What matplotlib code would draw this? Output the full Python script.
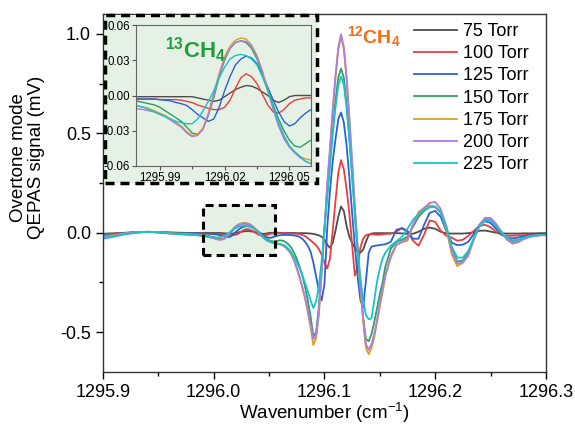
import numpy as np
import matplotlib
matplotlib.use("Agg")
import matplotlib.pyplot as plt
from matplotlib.patches import Rectangle
from matplotlib.ticker import MultipleLocator, FormatStrFormatter

plt.rcParams["font.family"] = "Liberation Sans"
plt.rcParams["mathtext.fontset"] = "custom"
plt.rcParams["mathtext.rm"] = "Liberation Sans"
plt.rcParams["mathtext.bf"] = "Liberation Sans:bold"
plt.rcParams["axes.unicode_minus"] = False

# sampling grid (cm-1): coarse baseline, fine over the 13CH4 / 12CH4 lines, medium tail
wavenumber = np.round(np.concatenate([
    np.arange(1295.90, 1295.975, 0.01),
    np.arange(1295.98, 1296.0601, 0.0025),
    np.arange(1296.0625, 1296.1551, 0.0025),
    np.arange(1296.16, 1296.3001, 0.005),
]), 4)

pressures = ["75 Torr", "100 Torr", "125 Torr", "150 Torr", "175 Torr", "200 Torr", "225 Torr"]
colors = ["#4d4d4d", "#ef3b3b", "#2a62d6", "#2ba25e", "#d9a21b", "#b07ae6", "#17c3c9"]

# QEPAS 2f signal (mV)
sig_75 = np.array([
    -0.005, -0.003, 0.000, 0.003, 0.004, 0.003, 0.001, 0.000,
    -0.001, -0.001, -0.001, -0.001, -0.001, -0.001, -0.001, -0.001, -0.001, -0.001, -0.001,
    -0.002, -0.003, -0.004, -0.005, -0.004, -0.001, 0.002, 0.005, 0.007, 0.0085, 0.008,
    0.006, 0.003, 0.000, -0.004, -0.006, -0.004, -0.001, 0.000, 0.000, 0.000, 0.000,
    -0.001, -0.001, -0.001, -0.001, -0.001, -0.002, -0.002, -0.002, -0.002, -0.003,
    -0.004, -0.006, -0.009, -0.013, -0.020, -0.032, -0.060, -0.076, -0.050, 0.010,
    0.080, 0.132, 0.110, 0.035, -0.020, -0.050, -0.075, -0.094, -0.100, -0.085,
    -0.045, -0.012, -0.004, -0.002, -0.002, -0.002, -0.002, -0.002,
    -0.002, -0.002, -0.003, -0.005, -0.005, 0.005, 0.020, 0.026, 0.020, 0.005,
    -0.003, -0.004, -0.004, -0.004, -0.002, 0.003, 0.010, 0.011, 0.006, 0.000,
    -0.003, -0.004, -0.004, -0.004, -0.003, -0.003, -0.003, -0.002, -0.002,
])
sig_100 = np.array([
    -0.006, -0.004, -0.001, 0.002, 0.004, 0.003, 0.001, -0.001,
    -0.003, -0.003, -0.003, -0.003, -0.0035, -0.0035, -0.0035, -0.0035, -0.004, -0.005, -0.006,
    -0.008, -0.0095, -0.011, -0.012, -0.012, -0.010, -0.004, 0.006, 0.015, 0.0185, 0.016,
    0.010, 0.001, -0.008, -0.014, -0.015, -0.012, -0.007, -0.004, -0.003, -0.002, -0.002,
    -0.002, -0.002, -0.003, -0.003, -0.004, -0.005, -0.007, -0.011, -0.017, -0.027,
    -0.038, -0.050, -0.063, -0.082, -0.110, -0.150, -0.180, -0.130, 0.010, 0.160,
    0.300, 0.365, 0.320, 0.220, 0.100, -0.060, -0.215, -0.170, -0.075, -0.030,
    -0.012, -0.008, -0.007, -0.008, -0.010, -0.010, -0.008, -0.006,
    -0.005, 0.005, 0.024, 0.010, -0.040, -0.065, -0.010, 0.062, 0.055, 0.010,
    -0.015, -0.025, -0.040, -0.035, -0.015, 0.010, 0.035, 0.040, 0.028, 0.005,
    -0.010, -0.015, -0.015, -0.013, -0.012, -0.010, -0.010, -0.010, -0.010,
])
sig_125 = np.array([
    -0.010, -0.006, -0.002, 0.002, 0.004, 0.003, 0.000, -0.002,
    -0.003, -0.003, -0.003, -0.003, -0.0035, -0.004, -0.0045, -0.006, -0.007, -0.0085, -0.012,
    -0.016, -0.019, -0.022, -0.020, -0.010, 0.004, 0.016, 0.026, 0.031, 0.0335, 0.032,
    0.027, 0.018, 0.007, -0.004, -0.014, -0.022, -0.026, -0.024, -0.019, -0.015, -0.012,
    -0.011, -0.011, -0.011, -0.012, -0.013, -0.016, -0.021, -0.030, -0.045, -0.065,
    -0.095, -0.150, -0.220, -0.290, -0.340, -0.260, 0.020, 0.210, 0.360, 0.470,
    0.570, 0.605, 0.555, 0.440, 0.280, 0.100, -0.070, -0.220, -0.340, -0.375,
    -0.240, -0.100, -0.070, -0.066, -0.064, -0.062, -0.060, -0.058,
    -0.045, 0.015, 0.022, 0.006, -0.030, -0.030, 0.040, 0.100, 0.110, 0.080,
    0.010, -0.050, -0.062, -0.060, -0.045, -0.005, 0.040, 0.058, 0.050, 0.020,
    -0.010, -0.025, -0.028, -0.024, -0.018, -0.014, -0.012, -0.011, -0.010,
])
sig_150 = np.array([
    -0.015, -0.009, -0.003, 0.002, 0.005, 0.003, -0.001, -0.003,
    -0.005, -0.006, -0.007, -0.008, -0.010, -0.013, -0.016, -0.019, -0.022, -0.027, -0.032,
    -0.033, -0.028, -0.017, -0.002, 0.016, 0.030, 0.040, 0.045, 0.0465, 0.045, 0.040,
    0.031, 0.019, 0.005, -0.008, -0.020, -0.030, -0.038, -0.043, -0.044, -0.041, -0.038,
    -0.040, -0.047, -0.058, -0.075, -0.100, -0.130, -0.170, -0.215, -0.270, -0.340,
    -0.420, -0.520, -0.500, -0.370, -0.180, 0.020, 0.210, 0.360, 0.520, 0.665,
    0.780, 0.825, 0.780, 0.650, 0.480, 0.290, 0.090, -0.100, -0.280, -0.430,
    -0.535, -0.545, -0.510, -0.450, -0.380, -0.310, -0.250, -0.170,
    -0.080, -0.045, -0.035, -0.020, 0.030, 0.080, 0.110, 0.130, 0.132, 0.105,
    0.030, -0.080, -0.145, -0.140, -0.100, -0.030, 0.035, 0.068, 0.066, 0.035,
    0.000, -0.032, -0.045, -0.040, -0.028, -0.020, -0.015, -0.012, -0.011,
])
sig_175 = np.array([
    -0.020, -0.012, -0.004, 0.002, 0.005, 0.003, -0.002, -0.006,
    -0.009, -0.010, -0.011, -0.013, -0.015, -0.017, -0.020, -0.023, -0.026, -0.031, -0.034,
    -0.033, -0.028, -0.015, 0.002, 0.019, 0.033, 0.042, 0.047, 0.049, 0.048, 0.043,
    0.034, 0.021, 0.005, -0.011, -0.025, -0.036, -0.043, -0.048, -0.052, -0.054, -0.055,
    -0.065, -0.075, -0.090, -0.110, -0.140, -0.180, -0.225, -0.275, -0.330, -0.400,
    -0.475, -0.565, -0.530, -0.410, -0.200, 0.010, 0.235, 0.415, 0.610, 0.780,
    0.920, 0.985, 0.925, 0.775, 0.575, 0.355, 0.120, -0.085, -0.275, -0.445,
    -0.580, -0.610, -0.580, -0.525, -0.450, -0.370, -0.300, -0.220,
    -0.125, -0.062, -0.048, -0.040, 0.040, 0.105, 0.125, 0.138, 0.132, 0.100,
    0.020, -0.110, -0.168, -0.150, -0.115, -0.030, 0.040, 0.072, 0.068, 0.035,
    0.000, -0.035, -0.050, -0.042, -0.028, -0.020, -0.015, -0.012, -0.011,
])
sig_200 = np.array([
    -0.022, -0.014, -0.005, 0.002, 0.005, 0.002, -0.003, -0.008,
    -0.0115, -0.012, -0.013, -0.014, -0.016, -0.018, -0.021, -0.024, -0.027, -0.032, -0.035,
    -0.034, -0.029, -0.016, 0.000, 0.017, 0.031, 0.040, 0.045, 0.0465, 0.046, 0.042,
    0.033, 0.020, 0.004, -0.012, -0.026, -0.037, -0.044, -0.049, -0.053, -0.056, -0.058,
    -0.062, -0.070, -0.085, -0.105, -0.135, -0.175, -0.220, -0.270, -0.325, -0.390,
    -0.460, -0.535, -0.515, -0.400, -0.200, 0.010, 0.240, 0.420, 0.620, 0.790,
    0.930, 0.998, 0.935, 0.780, 0.580, 0.360, 0.130, -0.070, -0.260, -0.430,
    -0.560, -0.588, -0.560, -0.510, -0.440, -0.360, -0.280, -0.210,
    -0.115, -0.058, -0.045, -0.030, 0.040, 0.095, 0.125, 0.150, 0.155, 0.120,
    0.035, -0.090, -0.155, -0.150, -0.110, -0.030, 0.040, 0.075, 0.075, 0.045,
    0.005, -0.035, -0.055, -0.048, -0.032, -0.022, -0.016, -0.013, -0.012,
])
sig_225 = np.array([
    -0.030, -0.020, -0.008, 0.000, 0.004, 0.001, -0.004, -0.007,
    -0.009, -0.010, -0.012, -0.014, -0.016, -0.018, -0.020, -0.022, -0.023, -0.024, -0.024,
    -0.020, -0.013, -0.005, 0.004, 0.015, 0.024, 0.031, 0.034, 0.035, 0.034, 0.031,
    0.026, 0.016, 0.004, -0.010, -0.023, -0.034, -0.043, -0.048, -0.052, -0.056, -0.058,
    -0.060, -0.068, -0.080, -0.098, -0.122, -0.148, -0.178, -0.212, -0.252, -0.295,
    -0.340, -0.378, -0.345, -0.270, -0.140, 0.010, 0.170, 0.330, 0.490, 0.630,
    0.740, 0.785, 0.745, 0.630, 0.470, 0.290, 0.100, -0.080, -0.230, -0.340,
    -0.415, -0.435, -0.430, -0.340, -0.245, -0.180, -0.130, -0.100,
    -0.065, -0.043, -0.020, 0.020, 0.065, 0.095, 0.115, 0.128, 0.130, 0.100,
    0.030, -0.070, -0.125, -0.125, -0.090, -0.025, 0.030, 0.062, 0.062, 0.035,
    0.003, -0.025, -0.038, -0.035, -0.025, -0.018, -0.014, -0.012, -0.011,
])
signals = [sig_75, sig_100, sig_125, sig_150, sig_175, sig_200, sig_225]

zoom_x = (1295.990, 1296.0555)
zoom_y = (-0.113, 0.140)
shade = "#e5f1e5"

fig = plt.figure(figsize=(5.75, 4.34), dpi=100)
ax = fig.add_axes([0.179, 0.1429, 0.7704, 0.8249])

for y, c, lab in zip(signals, colors, pressures):
    ax.plot(wavenumber, y, color=c, lw=1.3, label=lab, zorder=2)

# highlighted 13CH4 window
ax.add_patch(Rectangle((zoom_x[0], zoom_y[0]), zoom_x[1] - zoom_x[0], zoom_y[1] - zoom_y[0],
                       facecolor=shade, edgecolor="none", zorder=1))
ax.add_patch(Rectangle((zoom_x[0], zoom_y[0]), zoom_x[1] - zoom_x[0], zoom_y[1] - zoom_y[0],
                       fill=False, edgecolor="black", lw=2.2, ls=(0, (2.6, 1.7)), zorder=3))

ax.set_xlim(1295.9, 1296.3)
ax.set_ylim(-0.7, 1.1)
ax.xaxis.set_major_locator(MultipleLocator(0.1))
ax.xaxis.set_minor_locator(MultipleLocator(0.05))
ax.xaxis.set_major_formatter(FormatStrFormatter("%.1f"))
ax.yaxis.set_major_locator(MultipleLocator(0.5))
ax.yaxis.set_minor_locator(MultipleLocator(0.25))
ax.yaxis.set_major_formatter(FormatStrFormatter("%.1f"))
ax.tick_params(which="both", direction="out", labelsize=13, width=1)
ax.tick_params(which="major", length=5)
ax.tick_params(which="minor", length=3)
for s in ax.spines.values():
    s.set_linewidth(1.0)
    s.set_color("#333333")

ax.set_xlabel("Wavenumber (cm$^{-1}$)", fontsize=13.5, labelpad=-0.5)
ax.set_ylabel("Overtone mode\nQEPAS signal (mV)", fontsize=13.5, linespacing=1.1)
ax.yaxis.set_label_coords(-0.13, 0.6)

ax.text(1296.1206, 0.953, r"$\mathbf{^{12}CH_4}$", color="#ff6a10", fontsize=14)

ax.legend(loc="upper left", bbox_to_anchor=(0.702, 0.975), frameon=False, fontsize=13,
          handlelength=2.4, handletextpad=0.3, labelspacing=0.29, borderpad=0, borderaxespad=0)

# inset panel with shaded, dashed background
box = (105 / 575, 1 - 183 / 434, 212 / 575, 168 / 434)
fig.patches.append(Rectangle(box[:2], box[2], box[3], transform=fig.transFigure,
                             facecolor=shade, edgecolor="none", zorder=1))
fig.patches.append(Rectangle(box[:2], box[2], box[3], transform=fig.transFigure,
                             fill=False, edgecolor="black", lw=2.5, ls=(0, (2.6, 1.7)), zorder=3))

axins = fig.add_axes([136 / 575, 1 - 166 / 434, 175 / 575, 141 / 434])
axins.set_zorder(2)
axins.set_facecolor("none")
for y, c in zip(signals, colors):
    axins.plot(wavenumber, y, color=c, lw=1.0)
axins.set_xlim(1295.979, 1296.060)
axins.set_ylim(-0.06, 0.06)
axins.set_xticks([1295.99, 1296.02, 1296.05])
axins.set_xticks([1296.005, 1296.035], minor=True)
axins.xaxis.set_major_formatter(FormatStrFormatter("%.2f"))
axins.set_yticks([-0.06, -0.03, 0.0, 0.03, 0.06])
axins.yaxis.set_major_formatter(FormatStrFormatter("%.2f"))
axins.tick_params(which="both", direction="out", labelsize=8.3, width=0.8, color="#555555", pad=1.5)
axins.tick_params(which="major", length=3)
axins.tick_params(which="minor", length=2)
for s in axins.spines.values():
    s.set_linewidth(0.8)
    s.set_color("#666666")
axins.text(1295.9926, 0.0317, r"$\mathbf{^{13}CH_4}$", color="#1f9e3f", fontsize=16)

fig.savefig("out.png", dpi=100)
